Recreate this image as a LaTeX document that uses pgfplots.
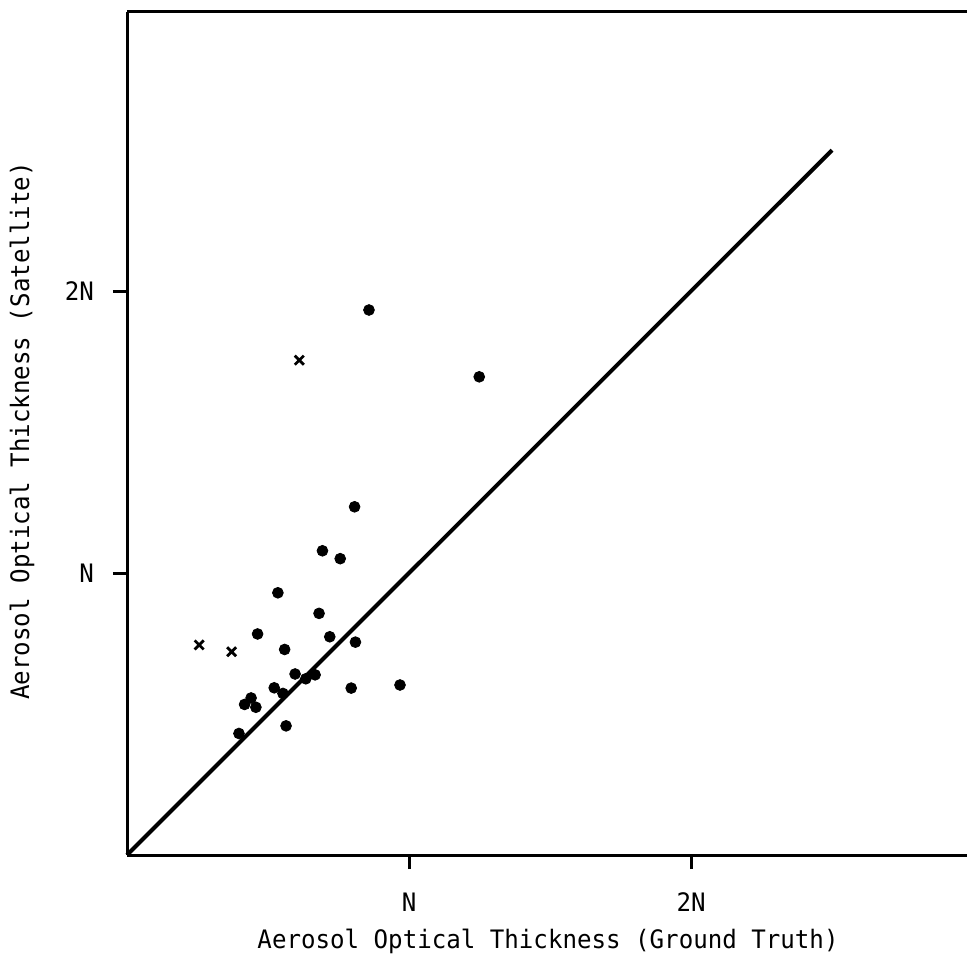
\documentclass[border=0pt]{standalone}
\usepackage{pgfplots}
\pgfplotsset{compat=1.18}
\usepackage{fontspec}
\newfontfamily\plotfont[FakeStretch=0.95]{DejaVu Sans Mono}
\begin{document}
\begin{tikzpicture}
\useasboundingbox (0,0) rectangle (484pt,481.5pt);
\begin{axis}[
  at={(63.5pt,54pt)}, anchor=south west,
  scale only axis, width=420.2pt, height=421.5pt,
  xmin=0, xmax=2.98, ymin=0, ymax=2.99,
  axis x line*=bottom, axis y line*=left,
  axis line style={line width=1.5pt, -},
  xtick={1,2}, xticklabels={N,2N}, ytick={1,2}, yticklabels={N,2N},
  tick align=outside, major tick length=7pt,
  tick style={line width=1.5pt, black},
  ticklabel style={font=\plotfont\fontsize{12.7}{15}\selectfont},
  xticklabel style={yshift=-8.5pt},
  yticklabel style={xshift=-6pt},
  label style={font=\plotfont\fontsize{12.7}{15}\selectfont},
  xlabel={Aerosol Optical Thickness (Ground Truth)},
  ylabel={Aerosol Optical Thickness (Satellite)},
  xlabel style={at={(axis description cs:0.501,-0.1025)}, anchor=center},
  ylabel style={at={(axis description cs:-0.125,0.503)}, anchor=center},
  clip=false,
]
\draw[line width=1.5pt] (rel axis cs:0,1) -- (rel axis cs:1,1);
\addplot[black, line width=2pt, no marks] coordinates {(0,0) (2.5,2.5)};
\addplot[only marks, mark=*, mark size=2.7pt, black] coordinates {
(0.858,1.933) (1.249,1.696) (0.807,1.235) (0.693,1.079) (0.756,1.051)
(0.535,0.930) (0.681,0.857) (0.463,0.784) (0.719,0.774) (0.810,0.755)
(0.559,0.729) (0.596,0.642) (0.634,0.625) (0.667,0.639) (0.522,0.593)
(0.553,0.573) (0.795,0.592) (0.968,0.603) (0.440,0.557) (0.417,0.534)
(0.457,0.524) (0.564,0.458) (0.397,0.431)
};
\addplot[only marks, mark=x, mark size=3.2pt, black, mark options={line width=1.4pt}] coordinates {
(0.611,1.755) (0.256,0.745) (0.371,0.721)
};
\end{axis}
\end{tikzpicture}
\end{document}
